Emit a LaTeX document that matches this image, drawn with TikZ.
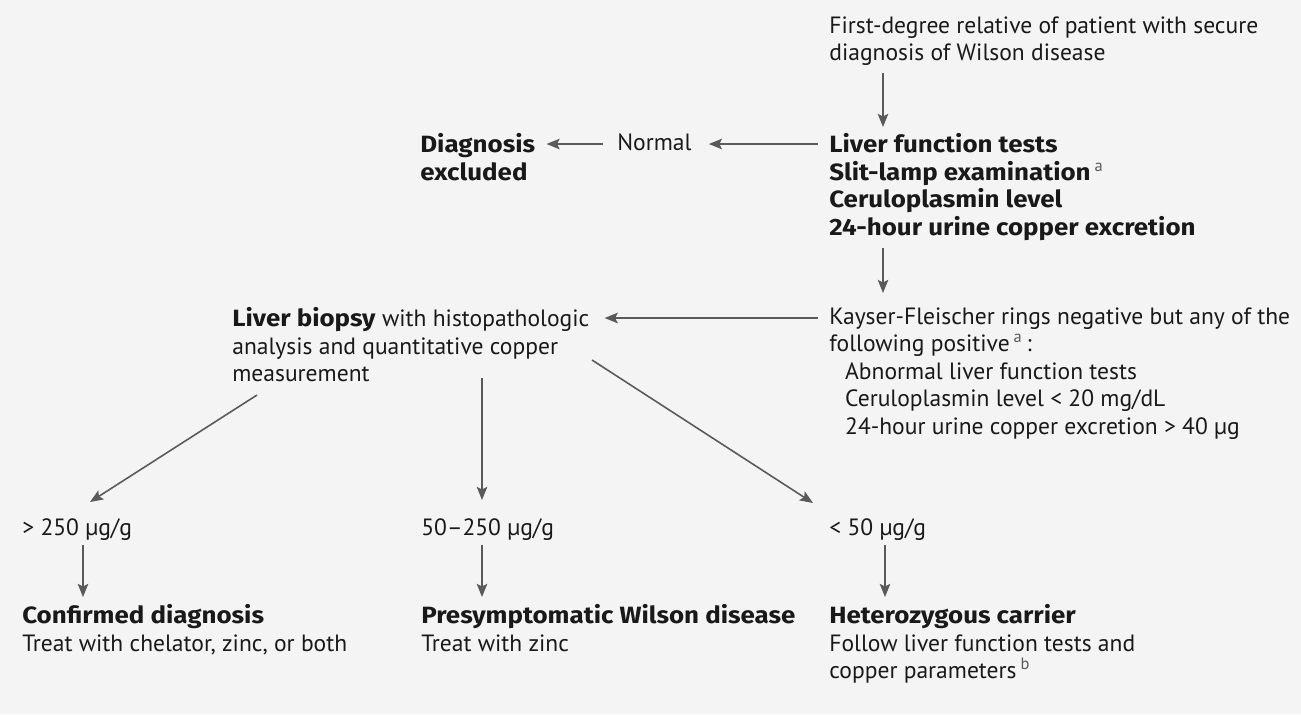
\documentclass[tikz,border=0pt]{standalone}
\usepackage{fontspec}
\setmainfont{PT Sans}[BoldFont={Fira Sans Bold}, BoldFeatures={FakeStretch=1.1}]
\usetikzlibrary{arrows.meta,positioning}
\definecolor{wilsonInk}{RGB}{25,25,25}
\definecolor{wilsonArrow}{RGB}{90,90,90}
\definecolor{wilsonPaper}{RGB}{244,244,244}
\newcommand{\wilsonfn}[1]{\,\textsuperscript{\mdseries\textcolor{wilsonArrow}{#1}}}

\begin{document}
\begin{tikzpicture}[
    txt/.style={anchor=north west, inner sep=0pt, align=left, text=wilsonInk,
                font=\fontsize{13.4}{15.6}\selectfont},
    head/.style={txt, font=\fontsize{13.4}{15.6}\selectfont\bfseries},
    arr/.style={-{Stealth[length=7.5pt,width=6pt,inset=1.5pt]}, wilsonArrow,
                line width=0.9pt}
  ]
  \fill[wilsonPaper] (0,0) rectangle (26.02,-14.28);
  \useasboundingbox (0,0) rectangle (26.02,-14.28);

  % screening
  \node[txt]  (relative) at (16.58,-0.33)
    {First-degree relative of patient with secure\\diagnosis of Wilson disease};
  \node[head] (tests) at (16.58,-2.67)
    {Liver function tests\\Slit-lamp examination\wilsonfn{a}\\Ceruloplasmin level\\24-hour urine copper excretion};
  \node[txt]  (normal)   at (12.34,-2.67) {Normal};
  \node[head] (excluded) at (8.40,-2.67)  {Diagnosis\\excluded};

  % abnormal findings
  \node[txt] (kayser) at (16.58,-6.15)
    {Kayser-Fleischer rings negative but any of the\\following positive\wilsonfn{a}\,:\\
     \hspace*{9pt}Abnormal liver function tests\\
     \hspace*{9pt}Ceruloplasmin level < 20 mg/dL\\
     \hspace*{9pt}24-hour urine copper excretion > 40 µg};
  \node[txt] (biopsy) at (4.64,-6.15)
    {\textbf{Liver biopsy} with histopathologic\\analysis and quantitative copper\\measurement};

  % hepatic copper
  \node[txt] (high) at (0.44,-10.37)  {> 250 µg/g};
  \node[txt] (mid)  at (8.42,-10.37)  {50–250 µg/g};
  \node[txt] (low)  at (16.58,-10.37) {< 50 µg/g};

  \node[txt] (confirmed) at (0.44,-12.09)
    {\textbf{Confirmed diagnosis}\\Treat with chelator, zinc, or both};
  \node[txt] (presym) at (8.42,-12.09)
    {\textbf{Presymptomatic Wilson disease}\\Treat with zinc};
  \node[txt] (carrier) at (16.58,-12.09)
    {\textbf{Heterozygous carrier}\\Follow liver function tests and\\copper parameters\wilsonfn{b}};

  \draw[arr] ([xshift=1.08cm,yshift=-0.13cm]relative.south west) -- ([xshift=1.08cm,yshift=0.13cm]tests.north west);
  \draw[arr] ([xshift=-0.22cm,yshift=-0.21cm]tests.north west) -- ([xshift=0.34cm,yshift=-0.21cm]normal.north east);
  \draw[arr] ([xshift=-0.28cm,yshift=-0.21cm]normal.north west) -- ([xshift=0.22cm,yshift=-0.21cm]excluded.north east);
  \draw[arr] ([xshift=1.08cm,yshift=-0.15cm]tests.south west) -- ([xshift=1.08cm,yshift=0.29cm]kayser.north west);
  \draw[arr] ([xshift=-0.22cm,yshift=-0.21cm]kayser.north west) -- ([xshift=0.30cm,yshift=-0.21cm]biopsy.north east);

  \draw[arr] ([xshift=0.50cm,yshift=-1.75cm]biopsy.north west) -- ([xshift=1.36cm,yshift=0.33cm]high.north west);
  \draw[arr] ([xshift=5.00cm,yshift=-1.41cm]biopsy.north west) -- ([xshift=1.22cm,yshift=0.37cm]mid.north west);
  \draw[arr] ([xshift=7.20cm,yshift=-1.05cm]biopsy.north west) -- ([xshift=-0.32cm,yshift=0.31cm]low.north west);

  \draw[arr] ([xshift=1.22cm,yshift=-0.53cm]high.north west) -- ([xshift=1.22cm,yshift=0.15cm]confirmed.north west);
  \draw[arr] ([xshift=1.22cm,yshift=-0.53cm]mid.north west) -- ([xshift=1.22cm,yshift=0.15cm]presym.north west);
  \draw[arr] ([xshift=1.12cm,yshift=-0.53cm]low.north west) -- ([xshift=1.12cm,yshift=0.15cm]carrier.north west);
\end{tikzpicture}
\end{document}
